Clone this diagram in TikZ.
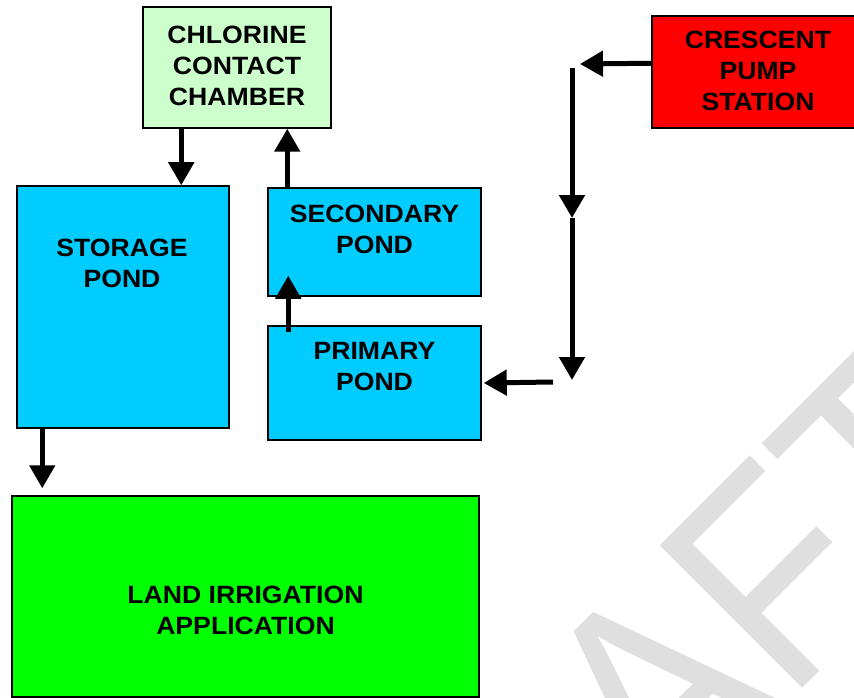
\documentclass[tikz,border=0pt]{standalone}
\usepackage{fontspec}
\setmainfont{Liberation Sans}
\newfontfamily\lblfont{Liberation Sans}[FakeStretch=1.065]
\usetikzlibrary{arrows.meta}
\definecolor{cccgreen}{HTML}{CCFFCC}
\definecolor{pondblue}{HTML}{00CCFF}
\definecolor{landgreen}{HTML}{00FF00}
\definecolor{pumpred}{HTML}{FF0000}
\definecolor{wmgray}{RGB}{223,223,223}
\tikzset{
  box/.style={draw=black, line width=1.5pt, inner sep=0pt, rectangle},
  lbl/.style={anchor=north, inner sep=0pt, align=center, text=black,
    font=\lblfont\bfseries\fontsize{25}{31}\selectfont},
  arr/.style={line width=5pt, -{Triangle[width=25pt,length=23pt]}},
  wm/.style={anchor=base, inner sep=0pt, rotate=45, xscale=0.89, text=wmgray,
    font=\fontsize{293}{293}\selectfont}
}
\begin{document}
\begin{tikzpicture}[x=1pt,y=-1pt]
\useasboundingbox (0,0) rectangle (854,698);
\clip (0,0) rectangle (854,698);
% watermark
\node[wm] (draft) at (706,785) {DRAFT};
% boxes
\node[box, fill=cccgreen, minimum width=188pt, minimum height=121pt] (ccc) at (237,67.5) {};
\node[box, fill=pondblue, minimum width=212pt, minimum height=242pt] (stor) at (123,307) {};
\node[box, fill=pondblue, minimum width=213pt, minimum height=108pt] (sec) at (374.5,242) {};
\node[box, fill=pondblue, minimum width=213pt, minimum height=114pt] (pri) at (374.5,383) {};
\node[box, fill=landgreen, minimum width=467pt, minimum height=201pt] (land) at (245.5,596.5) {};
\node[box, fill=pumpred, minimum width=212pt, minimum height=112pt] (pump) at (758,72) {};
% labels
\node[lbl] (ccct) at ([yshift=-20pt]ccc.north) {CHLORINE\\CONTACT\\CHAMBER};
\node[lbl] (pumpt) at ([yshift=-16pt]pump.north) {CRESCENT\\PUMP\\STATION};
\node[lbl] (sect) at ([yshift=-18pt]sec.north) {SECONDARY\\POND};
\node[lbl] (prit) at ([yshift=-17pt]pri.north) {PRIMARY\\POND};
\node[lbl] (stort) at ([xshift=-1pt,yshift=-54pt]stor.north) {STORAGE\\POND};
\node[lbl] (landt) at ([yshift=-91pt]land.north) {LAND IRRIGATION\\APPLICATION};
% junction coordinates
\coordinate (j1) at (580,64);
\coordinate (j2) at (572,68);
\coordinate (j3) at (572,218);
\coordinate (j4) at (572,380);
\coordinate (j5) at (553,382);
% connectors
\draw[arr] ([xshift=39pt]ccc.south west) -- ([xshift=39pt]ccc.south west |- stor.north);
\draw[arr] ([xshift=20pt]sec.north west) -- ([xshift=20pt]sec.north west |- ccc.south);
\draw[arr] ([shift={(21pt,-7pt)}]pri.north west) -- ([shift={(21pt,21pt)}]sec.south west);
\draw[arr] ([xshift=26pt]stor.south west) -- ([shift={(31pt,7pt)}]land.north west);
\draw[arr] ([yshift=-48pt]pump.north west) -- (j1);
\draw[arr] (j2) -- (j3);
\draw[arr] (j3) -- (j4);
\draw[arr] (j5) -- ([xshift=2pt]pri.east);
\end{tikzpicture}
\end{document}
